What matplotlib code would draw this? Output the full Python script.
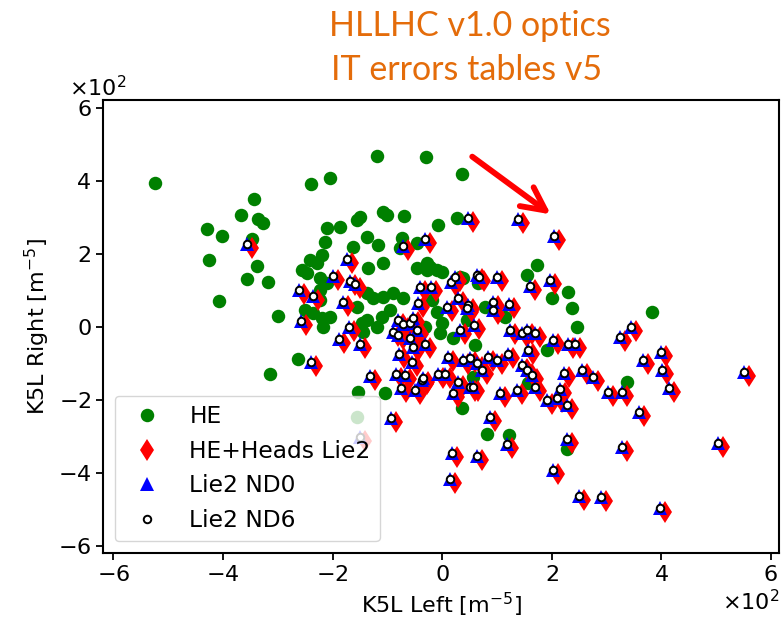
import matplotlib
matplotlib.use('Agg')
import matplotlib.pyplot as plt
from matplotlib.patches import FancyArrowPatch
from matplotlib.ticker import ScalarFormatter

# HE sample: K5L left / right of the IT errors (m^-5)
he_x = [-524, -239, -205, -343, -367, -336, -327, -429, -402, -347,
        -426, -338, -356, -318, -407, -210, -214, -300, -263, -314,
        -186, -163, -137, -117, -108, -135, -219, -241, -256, -247,
        -228, -223, -210, -223, -250, -236, -219, -205, -217, -155,
        -137, -126, -108, -89, -71, -95, -110, -119, -137, -144,
        -146, -46, -27, -73, -153, -104, -155, -119, -29, 37,
        -108, -100, -69, -150, -155, -7, 27, -77, -46, -22,
        -9, 0, 38, 155, -223, 174, 230, 200, 237, 247,
        192, 60, 20, -27, -18, -9, 0, -31, 33, 66,
        46, 115, 79, 37, 157, -4, 57, 82, 122, 228,
        338, 384]
he_y = [395, 392, 408, 351, 307, 296, 285, 268, 249, 241,
        184, 167, 132, 123, 71, 271, 233, 30, -88, -129,
        274, 219, 247, 225, 175, 162, 197, 184, 156, 148,
        175, 134, 121, 101, 47, 38, 25, 27, 0, 55,
        93, 79, 82, 93, 79, 47, 27, 0, 19, -14,
        11, 162, 156, 244, -178, -181, -247, 468, 466, 419,
        315, 307, 304, 301, 293, 279, 299, 216, 230, 164,
        156, 151, 134, 142, 74, 170, 96, 79, 52, 0,
        -63, -49, -30, 175, 74, 41, 11, 0, 137, 121,
        19, 27, 55, -222, -153, -16, -137, -293, -296, -334,
        -150, 41]

# HE + heads, Lie2 map
heads_x = [56, 148, 214, -62, -22, 25, 33, 73, 77, 109,
           170, 206, -31, -11, -347, -252, -227, -165, -190, -159,
           -150, -172, 38, 56, 55, 102, 102, 131, -35, 18,
           -249, -161, -179, -141, -230, -123, -71, -62, -49, -44,
           -80, -71, -37, -49, -44, -22, -70, -46, -75, -59,
           -28, -66, -40, -84, 67, 42, 133, 155, 164, 179,
           212, 239, 252, 166, 130, 20, 47, 60, 73, 82,
           93, 109, 155, 164, 173, 232, 225, 219, 265, 285,
           312, 334, -26, 2, 14, 38, 29, 60, 66, 115,
           146, 179, 201, 237, 97, 338, 369, 128, 237, 338,
           27, 73, 24, 212, 259, 299, 407, 354, 409, 376,
           411, 424, 561, 513, -141]
heads_y = [289, 286, 239, 212, 231, 113, 127, 132, 127, 127,
           102, 119, 100, 100, 217, 91, 75, 176, 130, 116,
           108, 58, 69, 50, 42, 58, 37, 53, 56, 45,
           6, -10, -43, -57, -106, -144, 9, -2, 1, 15,
           -24, -32, -18, -40, -65, -57, -84, -106, -139, -142,
           -155, -177, -183, -259, -5, -18, -18, -26, -18, -26,
           -46, -57, -57, -73, -84, -92, -100, -95, -109, -128,
           -92, -100, -114, -128, -142, -136, -180, -205, -128, -147,
           -188, -37, -150, -139, -139, -161, -191, -174, -174, -191,
           -183, -174, -210, -224, -257, -188, -243, -331, -317, -339,
           -355, -363, -426, -402, -473, -476, -506, -10, -78, -100,
           -128, -177, -133, -328, -311]

# Lie2 map, ND0 and ND6 give the same values
lie2_x = [47, 139, 205, -71, -31, 16, 24, 64, 68, 100,
          161, 197, -40, -20, -356, -261, -236, -174, -199, -168,
          -159, -181, 29, 47, 46, 93, 93, 122, -44, 9,
          -258, -170, -188, -150, -239, -132, -80, -71, -58, -53,
          -89, -80, -46, -58, -53, -31, -79, -55, -84, -68,
          -37, -75, -49, -93, 58, 33, 124, 146, 155, 170,
          203, 230, 243, 157, 121, 11, 38, 51, 64, 73,
          84, 100, 146, 155, 164, 223, 216, 210, 256, 276,
          303, 325, -35, -7, 5, 29, 20, 51, 57, 106,
          137, 170, 192, 228, 88, 329, 360, 119, 228, 329,
          18, 64, 15, 203, 250, 290, 398, 345, 400, 367,
          402, 415, 552, 504, -150]
lie2_y = [299, 296, 249, 222, 241, 123, 137, 142, 137, 137,
          112, 129, 110, 110, 227, 101, 85, 186, 140, 126,
          118, 68, 79, 60, 52, 68, 47, 63, 66, 55,
          16, 0, -33, -47, -96, -134, 19, 8, 11, 25,
          -14, -22, -8, -30, -55, -47, -74, -96, -129, -132,
          -145, -167, -173, -249, 5, -8, -8, -16, -8, -16,
          -36, -47, -47, -63, -74, -82, -90, -85, -99, -118,
          -82, -90, -104, -118, -132, -126, -170, -195, -118, -137,
          -178, -27, -140, -129, -129, -151, -181, -164, -164, -181,
          -173, -164, -200, -214, -247, -178, -233, -321, -307, -329,
          -345, -353, -416, -392, -463, -466, -496, 0, -68, -90,
          -118, -167, -123, -318, -301]
nd6_x, nd6_y = lie2_x, lie2_y

labels = ['HE', 'HE+Heads Lie2', 'Lie2 ND0', 'Lie2 ND6']
title_lines = ['HLLHC v1.0 optics', 'IT errors tables v5']

fig = plt.figure(figsize=(7.81, 6.27), dpi=100)
ax = fig.add_axes([0.132, 0.118, 0.866, 0.7225])

ax.plot(he_x, he_y, 'o', color='green', ms=9.7, mew=0, label=labels[0])
ax.plot(heads_x, heads_y, 'd', color='red', ms=11.5, mew=0, label=labels[1])
ax.plot(lie2_x, lie2_y, '^', color='blue', ms=10.5, mew=0, label=labels[2])
ax.plot(nd6_x, nd6_y, 'o', mfc='white', mec='black', ms=5.4, mew=1.4,
        label=labels[3])

ax.set_xlim(-619, 616)
ax.set_ylim(-619, 622)
ax.set_xticks([-600, -400, -200, 0, 200, 400, 600])
ax.set_yticks([-600, -400, -200, 0, 200, 400, 600])
for axis in (ax.xaxis, ax.yaxis):
    fmt = ScalarFormatter(useMathText=True)
    fmt.set_powerlimits((0, 0))
    axis.set_major_formatter(fmt)
    axis.get_offset_text().set_fontsize(16)
# multiplier label sits a bit left of the frame
ax.yaxis.get_offset_text().set_x(-0.05)

ax.tick_params(labelsize=16, width=1.3, length=5)
for sp in ax.spines.values():
    sp.set_linewidth(1.5)

ax.set_xlabel(r'K5L Left [m$^{-5}$]', fontsize=16)
ax.set_ylabel(r'K5L Right [m$^{-5}$]', fontsize=16, labelpad=4)

ax.legend(loc='lower left', fontsize=16.8)

orange = '#E46C0A'
fig.text(0.602, 0.942, title_lines[0], ha='center', va='baseline',
         fontsize=24.5, color=orange, family='Lato')
fig.text(0.597, 0.873, title_lines[1], ha='center', va='baseline',
         fontsize=24.5, color=orange, family='Lato')

# arrow pointing at the outlying Lie2 points
fig.add_artist(FancyArrowPatch(
    (470, 472), (553, 411), transform=None, arrowstyle='->',
    mutation_scale=42, lw=4.2, color='red'))

fig.savefig('out.png', dpi=100)
